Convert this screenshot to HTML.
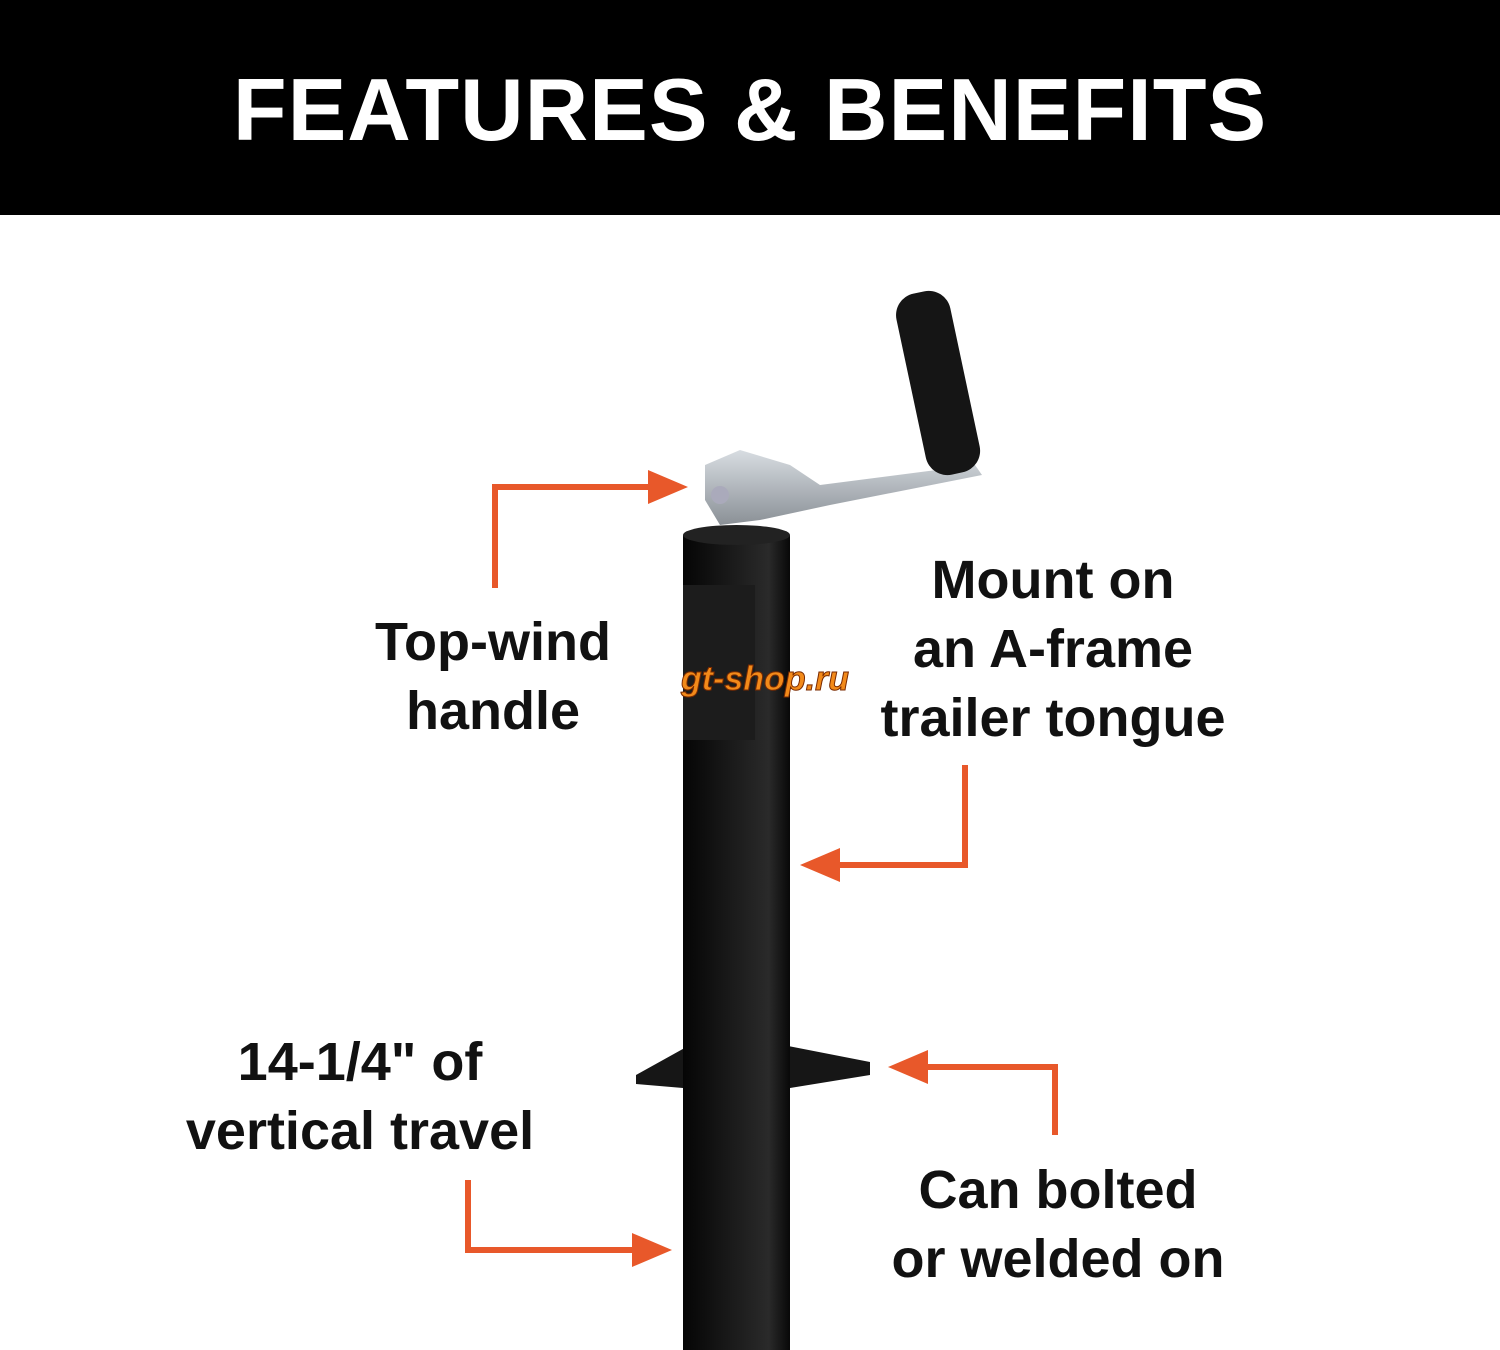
<!DOCTYPE html>
<html><head><meta charset="utf-8">
<style>
html,body{margin:0;padding:0;background:#fff;}
body{width:1500px;height:1350px;position:relative;overflow:hidden;font-family:"Liberation Sans","DejaVu Sans",sans-serif;}
.hdr{position:absolute;left:0;top:0;width:1500px;height:215px;background:#000;}
.hdr div{position:absolute;left:0;width:1500px;top:55px;text-align:center;color:#fff;font-weight:bold;font-size:88px;line-height:110px;letter-spacing:1px;}
.lbl{position:absolute;text-align:center;font-weight:bold;font-size:54px;line-height:69px;color:#111;white-space:nowrap;}
</style></head><body>
<div class="hdr"><div>FEATURES &amp; BENEFITS</div></div>
<svg width="1500" height="1350" style="position:absolute;left:0;top:0">
<defs>
<linearGradient id="tube" x1="0" x2="1">
<stop offset="0" stop-color="#050505"/><stop offset="0.45" stop-color="#1a1a1a"/><stop offset="0.8" stop-color="#2a2a2a"/><stop offset="1" stop-color="#080808"/>
</linearGradient>
<linearGradient id="steel" x1="0" y1="0" x2="0" y2="1">
<stop offset="0" stop-color="#d8dde2"/><stop offset="1" stop-color="#8a9096"/>
</linearGradient>
</defs>
<rect x="683" y="535" width="107" height="815" fill="url(#tube)"/>
<ellipse cx="736.5" cy="535" rx="53.5" ry="10" fill="#222"/>
<rect x="683" y="585" width="72" height="155" fill="#1c1c1c"/>
<polygon points="636,1075 690,1045 783,1045 870,1062 870,1075 790,1088 683,1088 636,1084" fill="#161616"/>
<rect x="683" y="1045" width="107" height="43" fill="url(#tube)"/>
<polygon points="705,465 740,450 790,465 820,485 975,465 982,475 830,505 760,520 720,525 705,500" fill="url(#steel)"/>
<circle cx="720" cy="495" r="9" fill="#aab"/>
<g transform="rotate(-12 940 380)">
<rect x="910" y="290" width="55" height="185" rx="22" fill="#151515"/>
</g>
<g stroke="#e8582a" stroke-width="6" fill="none">
<polyline points="495,588 495,487 652,487"/>
<polyline points="965,765 965,865 838,865"/>
<polyline points="1055,1135 1055,1067 925,1067"/>
<polyline points="468,1180 468,1250 635,1250"/>
</g>
<g fill="#e8582a">
<polygon points="688,487 648,470 648,504"/>
<polygon points="800,865 840,848 840,882"/>
<polygon points="888,1067 928,1050 928,1084"/>
<polygon points="672,1250 632,1233 632,1267"/>
</g>
<text x="765" y="690" text-anchor="middle" font-family="Liberation Sans" font-weight="bold" font-style="italic" font-size="34" fill="#f28a1a" stroke="#7a2a00" stroke-width="1">gt-shop.ru</text>
</svg>
<div class="lbl" style="left:293px;width:400px;top:608px">Top-wind<br>handle</div>
<div class="lbl" style="left:853px;width:400px;top:546px">Mount on<br>an A-frame<br>trailer tongue</div>
<div class="lbl" style="left:160px;width:400px;top:1028px">14-1/4" of<br>vertical travel</div>
<div class="lbl" style="left:858px;width:400px;top:1156px">Can bolted<br>or welded on</div>
</body></html>
